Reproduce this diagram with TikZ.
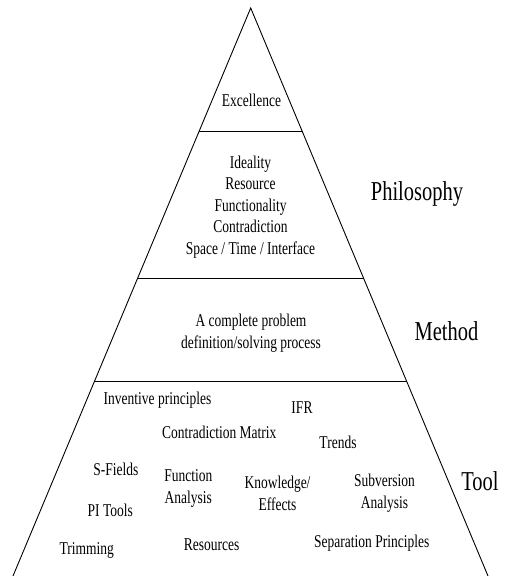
\documentclass[tikz,border=0pt]{standalone}
\usepackage{fontspec}
\setmainfont{Liberation Serif}[FakeStretch=0.75]
\usetikzlibrary{calc}
\tikzset{
  edge/.style={line width=0.9pt, black},
  % anchor=base of a multi-line node sits on its last line
  item/.style={anchor=base, inner sep=0pt, align=center,
               font=\fontsize{18}{21.5}\selectfont},
  level/.style={anchor=base, inner sep=0pt,
                font=\fontsize{27.3}{30}\selectfont}
}
\begin{document}
\begin{tikzpicture}[x=1pt,y=-1pt]
  \useasboundingbox (0,0) rectangle (505,576);

  % pyramid outline
  \coordinate (apex) at (250.7,8);
  \coordinate (bl) at (13,576);
  \coordinate (br) at (488,576);
  \draw[edge] (bl) -- (apex) -- (br);

  % dividing lines between the tiers
  \coordinate (a1) at ($(apex)!0.21655!(bl)$);
  \coordinate (b1) at ($(apex)!0.21655!(br)$);
  \coordinate (a2) at ($(apex)!0.47535!(bl)$);
  \coordinate (b2) at ($(apex)!0.47535!(br)$);
  \coordinate (a3) at ($(apex)!0.65669!(bl)$);
  \coordinate (b3) at ($(apex)!0.65669!(br)$);
  \draw[edge] (a1) -- (b1);
  \draw[edge] (a2) -- (b2);
  \draw[edge] (a3) -- (b3);

  % top tier
  \node[item] (excellence) at (251.5,106) {Excellence};

  % philosophy tier
  \node[item] (principles) at (250.5,254)
    {Ideality\\Resource\\Functionality\\Contradiction\\Space / Time / Interface};
  \node[level] (philosophy) at (417,200) {Philosophy};

  % method tier
  \node[item] (process) at (251,348)
    {A complete problem\\definition/solving process};
  \node[level] (method) at (446.5,340) {Method};

  % tool tier
  \node[level] (tool) at (480,490) {Tool};
  \node[item] (inventive) at (157.5,404) {Inventive principles};
  \node[item] (ifr) at (302,413.3) {IFR};
  \node[item] (matrix) at (219.2,438.3) {Contradiction Matrix};
  \node[item] (trends) at (338,448.3) {Trends};
  \node[item] (sfields) at (115.8,475.7) {S-Fields};
  \node[item] (function) at (188.3,503.3) {Function\\Analysis};
  \node[item] (knowledge) at (277.5,510) {Knowledge/\\Effects};
  \node[item] (subversion) at (384.5,508.3) {Subversion\\Analysis};
  \node[item] (pitools) at (110.3,516) {PI Tools};
  \node[item] (trimming) at (86.7,554) {Trimming};
  \node[item] (resources) at (211.7,550) {Resources};
  \node[item] (separation) at (371.7,547) {Separation Principles};
\end{tikzpicture}
\end{document}
